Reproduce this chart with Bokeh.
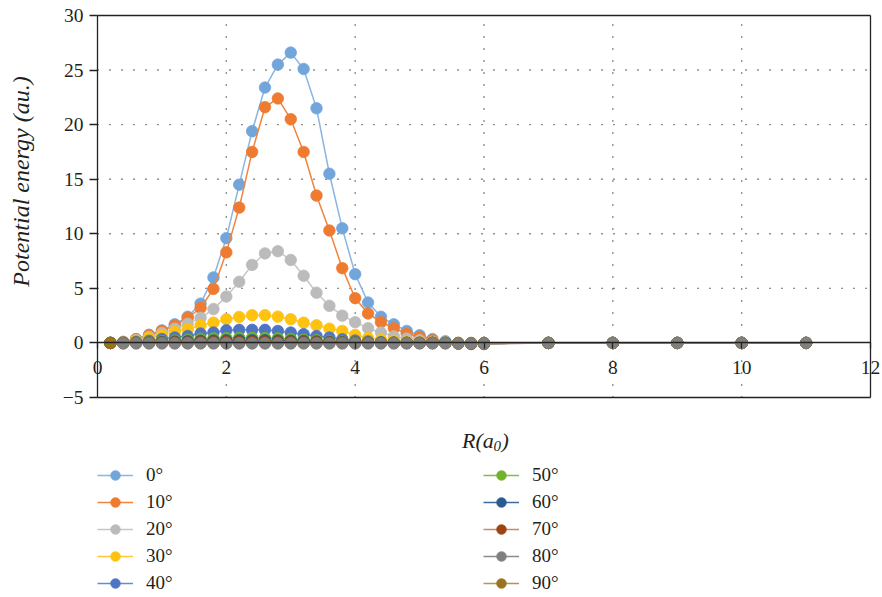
import math
from bokeh.plotting import figure
from bokeh.models import Range1d, FixedTicker, Legend, LegendItem, Label, LinearAxis
from bokeh.embed import file_html
from bokeh.resources import INLINE

# ---------------- data ----------------
r_values = [0.2, 0.4, 0.6, 0.8, 1.0, 1.2, 1.4, 1.6, 1.8, 2.0,
            2.2, 2.4, 2.6, 2.8, 3.0, 3.2, 3.4, 3.6, 3.8, 4.0,
            4.2, 4.4, 4.6, 4.8, 5.0, 5.2, 5.4, 5.6, 5.8, 6.0,
            7.0, 8.0, 9.0, 10.0, 11.0]

e_0 = [0.0, 0.1, 0.35, 0.75, 1.15, 1.7, 2.4, 3.6, 6.0, 9.6,
       14.5, 19.4, 23.4, 25.5, 26.6, 25.1, 21.5, 15.5, 10.5, 6.3,
       3.7, 2.4, 1.7, 1.1, 0.7, 0.35, 0.15, -0.05, -0.1, -0.1,
       0.0, 0.0, 0.0, 0.0, 0.0]
e_10 = [0.0, 0.08, 0.33, 0.7, 1.1, 1.6, 2.3, 3.2, 4.95, 8.3,
        12.4, 17.5, 21.6, 22.4, 20.5, 17.5, 13.5, 10.3, 6.85, 4.1,
        2.7, 1.9, 1.35, 0.85, 0.55, 0.25, 0.05, -0.05, -0.1, -0.1,
        0.0, 0.0, 0.0, 0.0, 0.0]
e_20 = [0.0, 0.05, 0.25, 0.55, 0.9, 1.3, 1.75, 2.3, 3.1, 4.25,
        5.6, 7.15, 8.2, 8.4, 7.6, 6.15, 4.6, 3.4, 2.5, 1.9,
        1.35, 0.95, 0.6, 0.4, 0.25, 0.1, 0.05, 0.0, -0.05, -0.05,
        0.0, 0.0, 0.0, 0.0, 0.0]
e_30 = [0.0, 0.03, 0.2, 0.45, 0.7, 1.0, 1.25, 1.62, 1.86, 2.17,
        2.38, 2.54, 2.54, 2.41, 2.17, 1.86, 1.62, 1.31, 1.1, 0.73,
        0.45, 0.3, 0.2, 0.12, 0.07, 0.03, 0.0, 0.0, -0.05, -0.05,
        0.0, 0.0, 0.0, 0.0, 0.0]
e_40 = [0.0, 0.02, 0.1, 0.2, 0.35, 0.5, 0.64, 0.86, 0.95, 1.16,
        1.2, 1.2, 1.2, 1.1, 0.95, 0.8, 0.64, 0.49, 0.33, 0.22,
        0.14, 0.08, 0.04, 0.02, 0.0, 0.0, 0.0, -0.03, -0.05, -0.05,
        0.0, 0.0, 0.0, 0.0, 0.0]
e_50 = [0.0, 0.0, 0.05, 0.1, 0.15, 0.22, 0.3, 0.38, 0.42, 0.45,
        0.47, 0.47, 0.45, 0.42, 0.37, 0.3, 0.25, 0.18, 0.12, 0.08,
        0.05, 0.03, 0.01, 0.0, 0.0, 0.0, 0.0, -0.03, -0.05, -0.05,
        0.0, 0.0, 0.0, 0.0, 0.0]
e_60 = [0.0, 0.0, 0.02, 0.05, 0.08, 0.12, 0.16, 0.2, 0.22, 0.24,
        0.25, 0.25, 0.24, 0.22, 0.2, 0.17, 0.14, 0.1, 0.07, 0.05,
        0.03, 0.02, 0.01, 0.0, 0.0, 0.0, 0.0, -0.03, -0.05, -0.05,
        0.0, 0.0, 0.0, 0.0, 0.0]
e_70 = [0.0, 0.0, 0.01, 0.02, 0.03, 0.05, 0.06, 0.08, 0.09, 0.1,
        0.1, 0.1, 0.1, 0.09, 0.08, 0.07, 0.06, 0.05, 0.03, 0.02,
        0.01, 0.0, 0.0, 0.0, 0.0, 0.0, 0.0, -0.03, -0.05, -0.05,
        0.0, 0.0, 0.0, 0.0, 0.0]
e_80 = [float("nan"), -0.05, -0.05, -0.05, -0.05, -0.05, -0.05, -0.05, -0.05, -0.05,
        -0.05, -0.05, -0.05, -0.05, -0.05, -0.05, -0.05, -0.05, -0.05, -0.05,
        -0.05, -0.05, -0.05, -0.05, -0.05, -0.05, -0.05, -0.05, -0.05, -0.05,
        0.0, 0.0, 0.0, 0.0, 0.0]
e_90 = [0.0] * 35

labels = ["0°", "10°", "20°", "30°", "40°", "50°", "60°", "70°", "80°", "90°"]
series = [e_0, e_10, e_20, e_30, e_40, e_50, e_60, e_70, e_80, e_90]
marker_colors = ["#72A6DA", "#EE7B30", "#BBBBBB", "#FFC20E", "#4E74C4",
                 "#72B22A", "#2B5C90", "#9E4316", "#808080", "#9A7320"]
line_colors = ["#8AB5E2", "#F0843C", "#C6C6C6", "#FFC83A", "#6A8AD0",
               "#84BC48", "#3E6C9E", "#C58A6E", "#8C8C8C", "#B89450"]

x_ticks = [0, 2, 4, 6, 8, 10, 12]
y_ticks = [-5, 0, 5, 10, 15, 20, 25, 30]
x_grid = [2, 4, 6, 8, 10]
y_grid = [5, 10, 15, 20, 25]
x_min, x_max = 0, 12
y_min, y_max = -5, 30

# ---------------- layout (pixels) ----------------
W, H = 882, 597
BOX_L, BOX_R, BOX_T, BOX_B = 97, 870, 15, 397
sx = (BOX_R - BOX_L) / (x_max - x_min)
sy = (BOX_B - BOX_T) / (y_max - y_min)
xr = Range1d(x_min - BOX_L / sx, x_max + (W - BOX_R) / sx)
yr = Range1d(y_min - (H - BOX_B) / sy, y_max + BOX_T / sy)

FONT = "Liberation Serif"
TXT = "#231F20"
AX = "#222222"

p = figure(width=W, height=H, output_backend="svg", toolbar_location=None,
           x_range=xr, y_range=yr, min_border=0,
           min_border_left=0, min_border_right=0, min_border_top=0,
           min_border_bottom=0)
p.background_fill_color = "white"
p.border_fill_color = "white"
p.outline_line_color = None
p.xgrid.visible = False
p.ygrid.visible = False

# dotted grid lines limited to the plot box
p.segment(x0=x_grid, y0=[y_min] * len(x_grid), x1=x_grid, y1=[y_max] * len(x_grid),
          line_color="#222222", line_dash="1 11", line_width=1.4)
p.segment(x0=[x_min] * len(y_grid), y0=y_grid, x1=[x_max] * len(y_grid), y1=y_grid,
          line_color="#222222", line_dash="1 11", line_width=1.4)

# main axes
xa = p.xaxis[0]
xa.fixed_location = 0
xa.bounds = (x_min, x_max)
xa.ticker = FixedTicker(ticks=x_ticks)
ya = p.yaxis[0]
ya.fixed_location = 0
ya.bounds = (y_min, y_max)
ya.ticker = FixedTicker(ticks=y_ticks)
ya.major_label_overrides = {-5: "\u22125"}
for ax in (xa, ya):
    ax.axis_line_color = AX
    ax.axis_line_width = 1.3
    ax.major_tick_line_color = AX
    ax.major_tick_line_width = 1.3
    ax.major_tick_in = 0
    ax.minor_tick_line_color = None
    ax.major_label_text_font = FONT
    ax.major_label_text_font_size = "19.5px"
    ax.major_label_text_color = TXT
xa.major_tick_out = 6
xa.major_label_standoff = 12
ya.major_tick_out = 8
ya.major_label_standoff = 6

# frame box edges drawn as plain axes
def edge_axis(loc, bounds, side):
    a = LinearAxis(fixed_location=loc, bounds=bounds,
                   ticker=FixedTicker(ticks=[]),
                   axis_line_color=AX, axis_line_width=1.3,
                   major_tick_line_color=None, minor_tick_line_color=None,
                   major_label_text_font_size="0px")
    p.add_layout(a, side)

edge_axis(y_max, (x_min, x_max), "above")
edge_axis(y_min, (x_min, x_max), "below")
edge_axis(x_max, (y_min, y_max), "right")

# series
order = [0, 1, 2, 3, 4, 5, 6, 7, 9, 8]
rmap = {}
for i in order:
    ln = p.line(r_values, series[i], line_color=line_colors[i], line_width=1.5)
    sc = p.scatter(r_values, series[i], size=11.5, fill_color=marker_colors[i],
                   line_color=marker_colors[i], line_width=0.8)
    rmap[i] = [ln, sc]

def make_legend(idx, vx):
    items = [LegendItem(label=labels[i], renderers=rmap[i]) for i in idx]
    return Legend(items=items, location=(vx, 2), orientation="vertical",
                  glyph_width=36, glyph_height=24, label_height=24,
                  label_standoff=13, spacing=3, padding=0, margin=0,
                  border_line_color=None, background_fill_alpha=0,
                  label_text_font=FONT, label_text_font_size="19px",
                  label_text_color=TXT)

p.add_layout(make_legend([0, 1, 2, 3, 4], 97), "center")
p.add_layout(make_legend([5, 6, 7, 8, 9], 483), "center")

# axis titles (screen units: from the canvas bottom-left)
p.add_layout(Label(x=20, y=H - 181, x_units="screen", y_units="screen",
                   text="Potential energy (au.)", angle=math.pi / 2,
                   text_align="center", text_baseline="middle",
                   text_font=FONT, text_font_style="italic",
                   text_font_size="24px", text_color=TXT))
p.add_layout(Label(x=461.5, y=H - 440, x_units="screen", y_units="screen",
                   text="R(a", text_align="left", text_baseline="alphabetic",
                   text_font=FONT, text_font_style="italic",
                   text_font_size="22px", text_color=TXT))
p.add_layout(Label(x=493, y=H - 445, x_units="screen", y_units="screen",
                   text="0", text_align="left", text_baseline="alphabetic",
                   text_font=FONT, text_font_style="italic",
                   text_font_size="15px", text_color=TXT))
p.add_layout(Label(x=501, y=H - 440, x_units="screen", y_units="screen",
                   text=")", text_align="left", text_baseline="alphabetic",
                   text_font=FONT, text_font_style="italic",
                   text_font_size="22px", text_color=TXT))

open("out.html", "w").write(file_html(p, INLINE))
